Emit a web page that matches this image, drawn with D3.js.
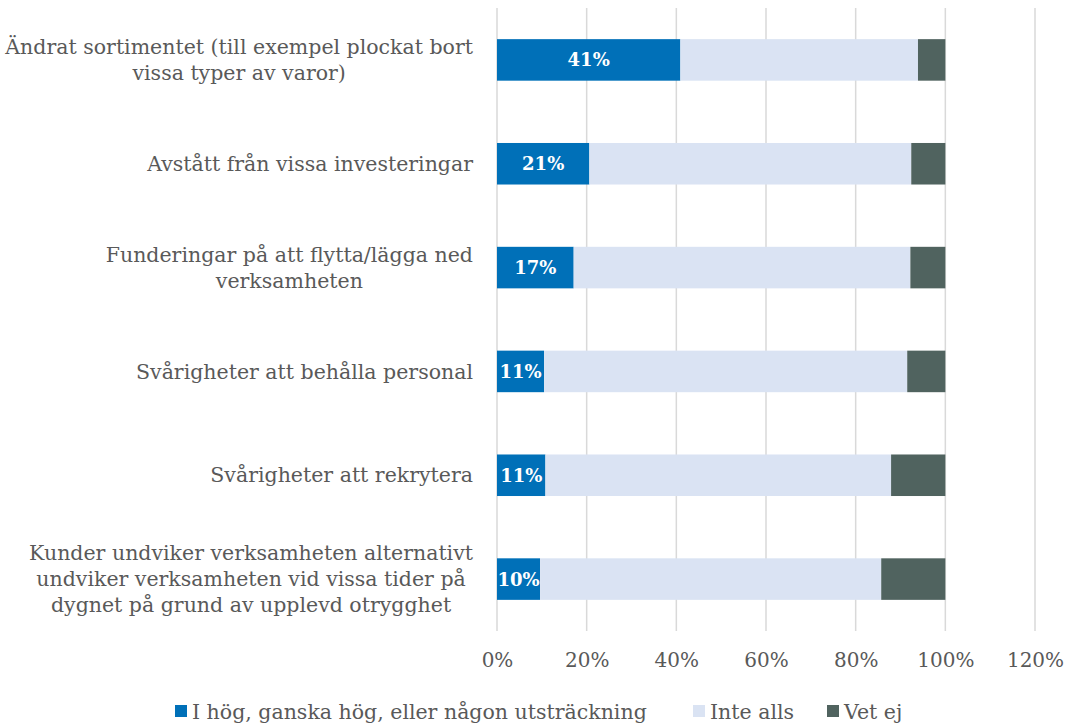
<!DOCTYPE html>
<html>
<head>
<meta charset="utf-8">
<script src="https://cdn.jsdelivr.net/npm/d3@7"></script>
<style>
  body { margin: 0; background: #fff; }
  svg text { font-family: "DejaVu Serif", Georgia, serif; }
</style>
</head>
<body>
<div id="chart"></div>
<script>
(function() {
    const categories = [
        ["Ändrat sortimentet (till exempel plockat bort", "vissa typer av varor)"],
        ["Avstått från vissa investeringar"],
        ["Funderingar på att flytta/lägga ned", "verksamheten"],
        ["Svårigheter att behålla personal"],
        ["Svårigheter att rekrytera"],
        ["Kunder undviker verksamheten alternativt", "undviker verksamheten vid vissa tider på", "dygnet på grund av upplevd otrygghet"]
    ];
    const seriesNames = ["I hög, ganska hög, eller någon utsträckning", "Inte alls", "Vet ej"];
    const hog = [0.409, 0.206, 0.171, 0.105, 0.108, 0.096];
    const inteAlls = [0.530, 0.718, 0.751, 0.810, 0.771, 0.761];
    const vetEj = [0.061, 0.076, 0.078, 0.085, 0.121, 0.143];
    const xTicks = [0, 0.2, 0.4, 0.6, 0.8, 1.0, 1.2];

    const config = {
        colors: ["#0070b8", "#dae3f3", "#50635f"],
        grid: "#d9d9d9",
        text: "#595959"
    };

    const width = 1089, height = 725;
    const margin = { top: 8, right: 54, bottom: 94, left: 497 };
    const innerW = width - margin.left - margin.right;
    const innerH = height - margin.top - margin.bottom;

    const rows = categories.map((c, i) => ({ i, lines: c, values: [hog[i], inteAlls[i], vetEj[i]] }));

    const svg = d3.select("#chart").append("svg")
        .attr("width", width)
        .attr("height", height);

    const g = svg.append("g")
        .attr("transform", `translate(${margin.left},${margin.top})`);

    const x = d3.scaleLinear().domain([0, 1.2]).range([0, innerW]);
    const y = d3.scaleBand()
        .domain(rows.map(d => d.i))
        .range([0, innerH])
        .paddingInner(0.6)
        .paddingOuter(0.3);

    // gridlines
    g.selectAll(".grid")
        .data(xTicks)
        .enter().append("line")
        .attr("x1", d => x(d)).attr("x2", d => x(d))
        .attr("y1", 0).attr("y2", innerH)
        .attr("stroke", config.grid)
        .attr("stroke-width", 1.5);

    // tick labels
    const xAxis = g.append("g")
        .attr("transform", `translate(0,${innerH})`)
        .call(d3.axisBottom(x).tickValues(xTicks).tickFormat(d3.format(".0%")).tickSize(0).tickPadding(22));
    xAxis.select(".domain").remove();
    xAxis.selectAll("text")
        .attr("fill", config.text)
        .attr("font-size", "20px")
        .attr("font-family", '"DejaVu Serif", Georgia, serif');

    // stacked bars
    const stack = rows.map(r => {
        let acc = 0;
        return r.values.map((v, k) => {
            const seg = { row: r.i, k, x0: acc, x1: acc + v, v };
            acc += v;
            return seg;
        });
    }).flat();

    g.selectAll(".seg")
        .data(stack)
        .enter().append("rect")
        .attr("x", d => x(d.x0))
        .attr("y", d => y(d.row))
        .attr("width", d => x(d.x1) - x(d.x0))
        .attr("height", y.bandwidth())
        .attr("fill", d => config.colors[d.k]);

    // value labels on first series
    g.selectAll(".val")
        .data(stack.filter(d => d.k === 0))
        .enter().append("text")
        .attr("x", d => x((d.x0 + d.x1) / 2))
        .attr("y", d => y(d.row) + y.bandwidth() / 2)
        .attr("dy", "0.36em")
        .attr("text-anchor", "middle")
        .attr("fill", "#fff")
        .attr("font-weight", "bold")
        .attr("font-size", "18px")
        .text(d => Math.round(d.v * 100) + "%");

    // category labels: block right-aligned, lines centered within block
    const labelRight = margin.left - 24;
    const lineH = 26;
    rows.forEach(r => {
        const grp = svg.append("g");
        const cy = margin.top + y(r.i) + y.bandwidth() / 2;
        const texts = r.lines.map((ln, j) => grp.append("text")
            .attr("y", cy + (j - (r.lines.length - 1) / 2) * lineH)
            .attr("dy", "0.35em")
            .attr("text-anchor", "middle")
            .attr("fill", config.text)
            .attr("font-size", "20.5px")
            .text(ln));
        const maxW = d3.max(texts, t => t.node().getComputedTextLength());
        texts.forEach(t => t.attr("x", labelRight - maxW / 2));
    });

    // legend
    const legend = svg.append("g").attr("transform", `translate(0, 712)`);
    const legendX = [175, 693, 827];
    seriesNames.forEach((name, k) => {
        legend.append("rect")
            .attr("x", legendX[k]).attr("y", -7)
            .attr("width", 12).attr("height", 12)
            .attr("fill", config.colors[k]);
        legend.append("text")
            .attr("x", legendX[k] + 17)
            .attr("y", 0)
            .attr("dy", "0.35em")
            .attr("fill", config.text)
            .attr("font-size", "20.5px")
            .text(name);
    });
})();
</script>
</body>
</html>
